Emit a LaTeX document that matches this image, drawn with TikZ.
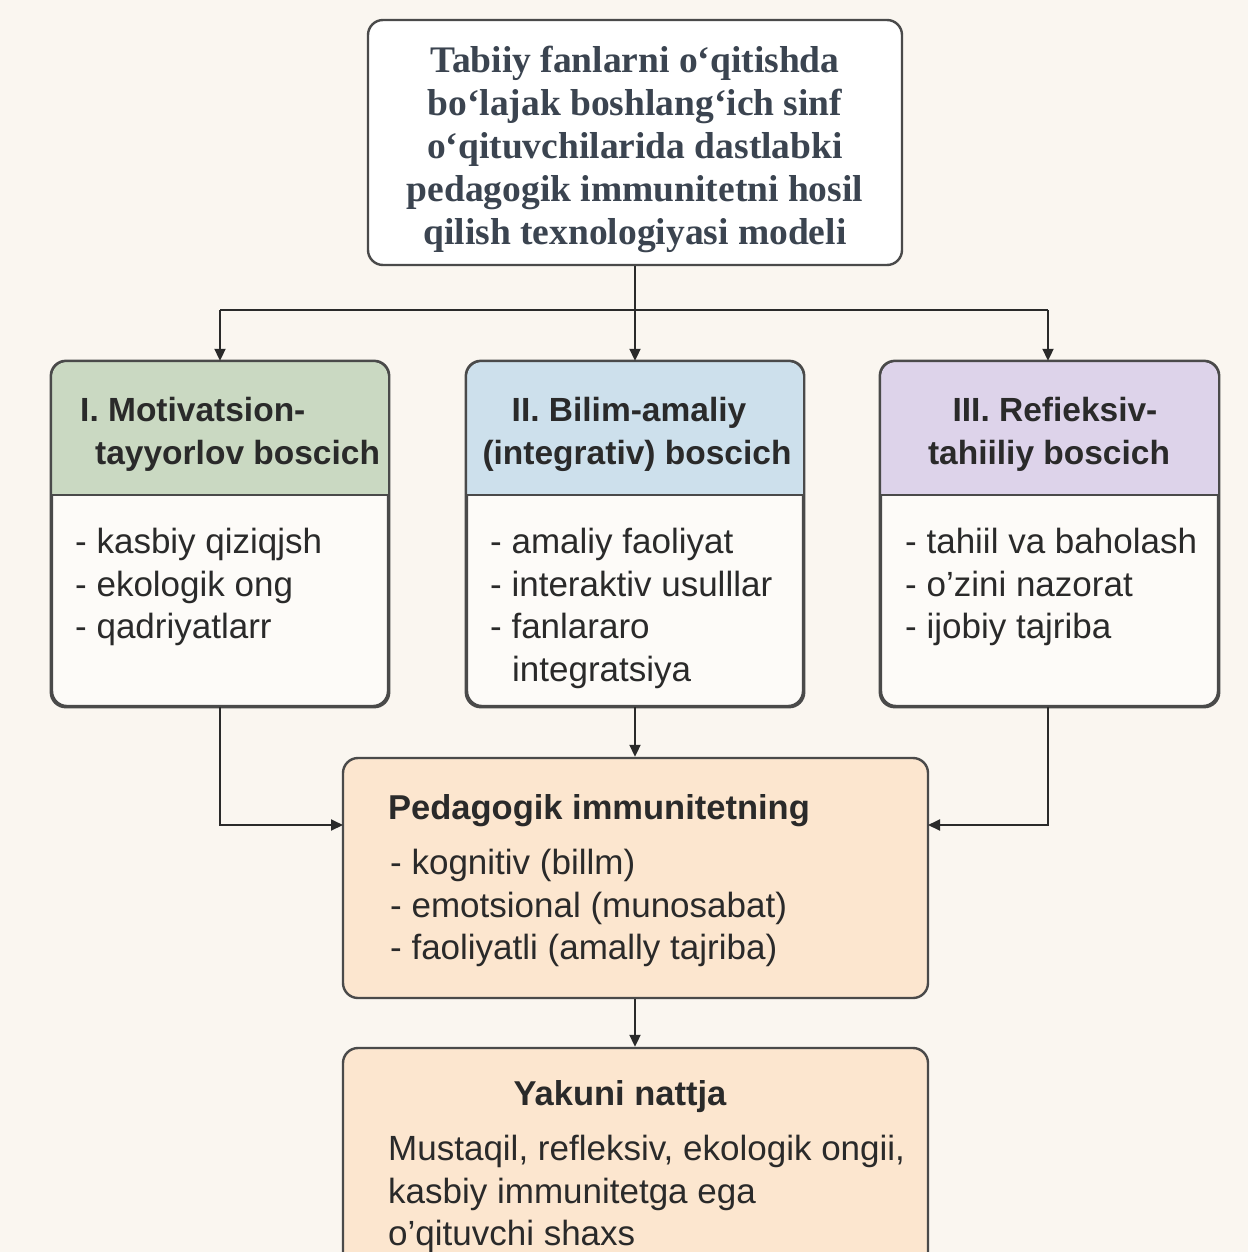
\documentclass[tikz,border=0pt]{standalone}
\usepackage{fontspec}
\setmainfont{Liberation Serif}
\setsansfont{Liberation Sans}
\usetikzlibrary{arrows.meta}
\definecolor{bgc}{HTML}{FAF6F0}
\definecolor{grn}{HTML}{CAD9C2}
\definecolor{blu}{HTML}{CDE0EC}
\definecolor{pur}{HTML}{DDD3EA}
\definecolor{pea}{HTML}{FCE6CF}
\definecolor{bodyc}{HTML}{FDFBF8}
\definecolor{brd}{HTML}{4A4A4A}
\definecolor{txt}{HTML}{2A2A2A}
\definecolor{ttl}{HTML}{3B4450}
\tikzset{
  boxst/.style={draw=brd, line width=2.4pt, rounded corners=15pt, inner sep=0pt},
  conn/.style={draw=txt, line width=2pt},
  arr/.style={conn, -{Triangle[length=12pt,width=11pt]}},
  headtxt/.style={font=\sffamily\bfseries\fontsize{33.5}{43}\selectfont, text=txt, inner sep=0pt},
  bighead/.style={font=\sffamily\bfseries\fontsize{34.5}{43}\selectfont, text=txt, inner sep=0pt},
  itemtxt/.style={font=\sffamily\fontsize{35}{42.5}\selectfont, text=txt, inner sep=0pt, align=left, anchor=north west},
}
\begin{document}
\begin{tikzpicture}[x=1pt,y=-1pt]
\useasboundingbox (0,0) rectangle (1248,1252);
\clip (0,0) rectangle (1248,1252);
\fill[bgc] (0,0) rectangle (1248,1252);

% title
\node[boxst, fill=white, minimum width=534pt, minimum height=245pt] (top) at (635,142.5) {};
\node[font=\bfseries\fontsize{37.5}{43}\selectfont, text=ttl, align=center, inner sep=0pt] (toptxt) at (635,149)
 {Tabiiy fanlarni o‘qitishda\\bo‘lajak boshlang‘ich sinf\\o‘qituvchilarida dastlabki\\pedagogik immunitetni hosil\\qilish texnologiyasi modeli};

% stage boxes
\node[boxst, fill=bodyc, minimum width=336pt, minimum height=344pt] (s1) at (220,534) {};
\node[boxst, fill=bodyc, minimum width=336pt, minimum height=344pt] (s2) at (635,534) {};
\node[boxst, fill=bodyc, minimum width=337pt, minimum height=344pt] (s3) at (1049.5,534) {};

\fill[grn, rounded corners=15pt] (52,495) -- (52,362) -- (388,362) -- (388,495);
\fill[blu, rounded corners=15pt] (467,495) -- (467,362) -- (803,362) -- (803,495);
\fill[pur, rounded corners=15pt] (881,495) -- (881,362) -- (1218,362) -- (1218,495);
\draw[brd, line width=2.4pt] (52,495) -- (388,495);
\draw[brd, line width=2.4pt] (467,495) -- (803,495);
\draw[brd, line width=2.4pt] (881,495) -- (1218,495);
\draw[boxst] (s1.north west) rectangle (s1.south east);
\draw[boxst] (s2.north west) rectangle (s2.south east);
\draw[boxst] (s3.north west) rectangle (s3.south east);

\node[headtxt, align=left, anchor=north west] (h1) at (80,397.5) {I. Motivatsion-\\\hspace*{15pt}tayyorlov boscich};
\node[headtxt, align=center, anchor=north] (h2) at (637,397.5) {II. Bilim-amaliy\hspace*{16pt}\\(integrativ) boscich};
\node[headtxt, align=center, anchor=north] (h3) at (1049,397.5) {\hspace*{12pt}III. Refieksiv-\\tahiiliy boscich};

\node[itemtxt] (i1) at (75,528) {- kasbiy qiziqjsh\\- ekologik ong\\- qadriyatlarr};
\node[itemtxt] (i2) at (490,528) {- amaliy faoliyat\\- interaktiv usulllar\\- fanlararo\\\hspace*{22pt}integratsiya};
\node[itemtxt] (i3) at (905,528) {- tahiil va baholash\\- o’zini nazorat\\- ijobiy tajriba};

% pedagogik box
\node[boxst, fill=pea, minimum width=585pt, minimum height=240pt] (ped) at (635.5,878) {};
\node[bighead, anchor=north west] (pt) at (388,794) {Pedagogik immunitetning};
\node[itemtxt] (pi) at (390,849) {- kognitiv (billm)\\- emotsional (munosabat)\\- faoliyatli (amally tajriba)};

% yakuni box
\node[boxst, fill=pea, minimum width=585pt, minimum height=260pt] (yak) at (635.5,1178) {};
\node[bighead, anchor=north] (yt) at (620,1080) {Yakuni nattja};
\node[itemtxt] (yi) at (388,1135) {Mustaqil, refleksiv, ekologik ongii,\\kasbiy immunitetga ega\\o’qituvchi shaxs};

% connectors
\coordinate (jL) at (220,310);
\coordinate (jR) at (1048,310);
\coordinate (jM) at (635,310);
\draw[conn] (top.south) -- (jM);
\draw[conn] (jL) -- (jR);
\draw[arr] (jL) -- (s1.north);
\draw[arr] (jM) -- (s2.north);
\draw[arr] (jR) -- (jR |- s3.north);
\coordinate (pL) at (343,825);
\coordinate (pR) at (928,825);
\draw[arr] (s1.south) |- (pL);
\draw[arr] (s3.south -| jR) |- (pR);
\draw[arr] (s2.south) -- (ped.north -| s2.south);
\draw[arr] (ped.south -| s2.south) -- (yak.north -| s2.south);
\end{tikzpicture}
\end{document}
